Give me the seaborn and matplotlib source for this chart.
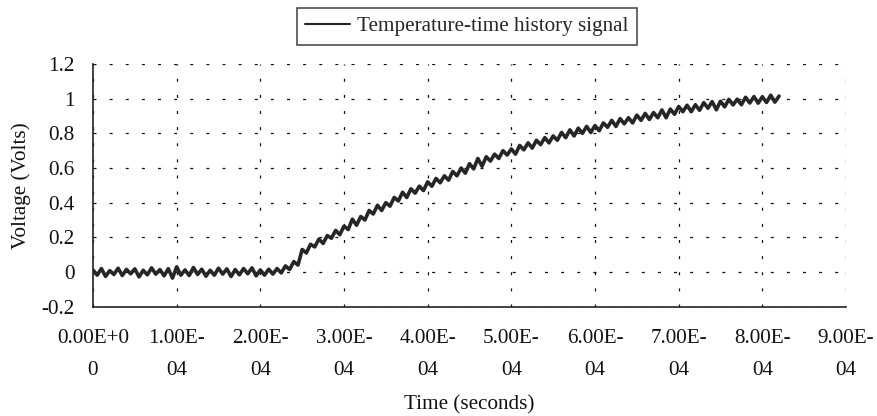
import numpy as np
import pandas as pd
import matplotlib
matplotlib.use("Agg")
import matplotlib.pyplot as plt
import seaborn as sns
from matplotlib.lines import Line2D

# ---- data ----
sample_step = 5e-6  # seconds between samples
voltage = [
    0.012, -0.018, 0.020, -0.025, 0.008, -0.014, 0.022, -0.020, 0.015, -0.010,
    0.018, -0.028, 0.010, -0.016, 0.024, -0.012, 0.014, -0.022, 0.019, -0.035,
    0.030, -0.018, 0.012, -0.020, 0.026, -0.014, 0.016, -0.024, 0.010, -0.018,
    0.022, -0.012, 0.018, -0.026, 0.014, -0.016, 0.020, -0.010, 0.024, -0.022,
    0.012, -0.018, 0.016, -0.012, 0.020,
    -0.005, 0.035, 0.015, 0.060, 0.040,
    0.130, 0.110, 0.160, 0.145, 0.190, 0.165, 0.210, 0.195, 0.240, 0.215,
    0.265, 0.245, 0.305, 0.270, 0.320, 0.300, 0.355, 0.335, 0.385, 0.355,
    0.400, 0.380, 0.430, 0.410, 0.460, 0.430, 0.480, 0.455, 0.495, 0.470,
    0.520, 0.495, 0.540, 0.515, 0.555, 0.530, 0.580, 0.555, 0.600, 0.570,
    0.625, 0.595, 0.655, 0.610, 0.665, 0.640, 0.680, 0.655, 0.700, 0.675,
    0.710, 0.680, 0.730, 0.705, 0.745, 0.715, 0.760, 0.735, 0.775, 0.745,
    0.785, 0.760, 0.805, 0.775, 0.820, 0.785, 0.830, 0.800, 0.840, 0.805,
    0.845, 0.815, 0.860, 0.835, 0.875, 0.840, 0.885, 0.855, 0.890, 0.860,
    0.905, 0.875, 0.915, 0.880, 0.920, 0.890, 0.935, 0.890, 0.940, 0.910,
    0.955, 0.925, 0.962, 0.925, 0.965, 0.933, 0.977, 0.945, 0.983, 0.936,
    0.985, 0.953, 0.996, 0.964, 0.997, 0.965, 1.008, 0.975, 1.012, 0.974,
    1.011, 0.978, 1.020, 0.980, 1.015,
]
x_ticks = [0, 1e-4, 2e-4, 3e-4, 4e-4, 5e-4, 6e-4, 7e-4, 8e-4, 9e-4]
x_tick_labels = ["0.00E+0\n0", "1.00E-\n04", "2.00E-\n04", "3.00E-\n04", "4.00E-\n04",
                 "5.00E-\n04", "6.00E-\n04", "7.00E-\n04", "8.00E-\n04", "9.00E-\n04"]
y_ticks = [-0.2, 0, 0.2, 0.4, 0.6, 0.8, 1.0, 1.2]
y_tick_labels = ["-0.2", "0", "0.2", "0.4", "0.6", "0.8", "1", "1.2"]
series_name = "Temperature-time history signal"

time = np.arange(len(voltage)) * sample_step
df = pd.DataFrame({"Time": time, "Voltage": voltage, "series": series_name})

sns.set_theme(style="white")
plt.rcParams["font.family"] = ["Liberation Serif", "DejaVu Serif"]
FS = 15.2
TXT = "#111111"
LINE = "#262626"

fig = plt.figure(figsize=(8.78, 4.16), dpi=100)
ax = fig.add_axes([93 / 878, 1 - 306.7 / 416, (846 - 93) / 878, (306.7 - 64) / 416])

sns.lineplot(data=df, x="Time", y="Voltage", hue="series", palette=[LINE],
             linewidth=2.6, ax=ax, legend=False)

ax.set_xlim(0, 9e-4)
ax.set_ylim(-0.2, 1.2)
ax.set_xticks(x_ticks)
ax.set_xticklabels(x_tick_labels, fontsize=FS, linespacing=1.9)
ax.set_yticks(y_ticks)
ax.set_yticklabels(y_tick_labels, fontsize=FS)

ax.grid(True, color="#111111", linewidth=0.9, linestyle=(0, (2.4, 10.5)))
for s in ["top", "right"]:
    ax.spines[s].set_visible(False)
for s in ["left", "bottom"]:
    ax.spines[s].set_color("#222222")
    ax.spines[s].set_linewidth(1.2)
ax.tick_params(axis="both", direction="out", length=5, width=1.1, color="#222222",
               labelcolor=TXT)
ax.tick_params(axis="x", pad=11)
ax.tick_params(axis="y", pad=8)

ax.set_xlabel("Time (seconds)", fontsize=FS, color=TXT, labelpad=11)
ax.set_ylabel("Voltage (Volts)", fontsize=FS, color=TXT, labelpad=8)

handle = Line2D([0], [0], color=LINE, linewidth=1.5)
leg = fig.legend([handle], [series_name], loc="center",
                 bbox_to_anchor=(467 / 878, 1 - 26.5 / 416), frameon=True,
                 fancybox=False, fontsize=FS, handlelength=2.1, handletextpad=0.35,
                 borderpad=0.4, borderaxespad=0)
leg.get_frame().set_edgecolor("#111111")
leg.get_frame().set_linewidth(1.1)

fig.savefig("out.png", dpi=100)
